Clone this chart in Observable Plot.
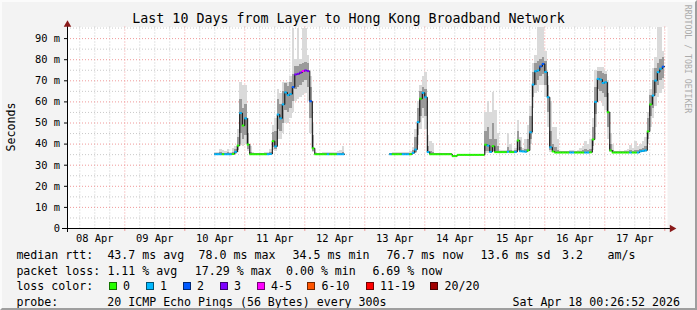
<!DOCTYPE html>
<html>
<head>
<meta charset="utf-8">
<script src="https://cdn.jsdelivr.net/npm/d3@7"></script>
<script src="https://cdn.jsdelivr.net/npm/@observablehq/plot@0.6"></script>
<style>
html, body { margin: 0; padding: 0; background: #f3f3f3; }
#wrap { position: relative; width: 697px; height: 310px; background: #f3f3f3; overflow: hidden;
        font-family: "DejaVu Sans Mono", monospace; color: #000; }
#frame { position: absolute; left: 0; top: 0; width: 697px; height: 310px; box-sizing: border-box;
         border-top: 2px solid #fbfbfb; border-left: 2px solid #fbfbfb;
         border-right: 2px solid #9e9e9e; border-bottom: 2px solid #9e9e9e; pointer-events: none; }
#chart { position: absolute; left: 0; top: 0; }
.t { position: absolute; white-space: pre; line-height: 12px; font-size: 11.6px; }
.sw { position: absolute; width: 6px; height: 6px; border: 1px solid rgba(0,0,0,0.55); }
#title { position: absolute; left: 0; width: 697px; top: 12px; text-align: center; font-size: 13.3px; line-height: 14px; white-space: pre; }
#ylab { position: absolute; left: 10.5px; top: 127px; transform: translate(-50%, -50%) rotate(-90deg); font-size: 11.6px; white-space: pre; }
#brand { position: absolute; left: 688px; top: 59px; transform: translate(-50%, -50%) rotate(90deg); font-size: 8.2px; color: #ababab; white-space: pre; }
</style>
</head>
<body>
<div id="wrap">
  <div id="chart"></div>
  <div id="title"></div>
  <div id="ylab"></div>
  <div id="brand"></div>
  <div id="legend"></div>
  <div id="frame"></div>
</div>
<script>
// ---------- text ----------
const titleText = "Last 10 Days from Layer to Hong Kong Broadband Network";
const yAxisTitle = "Seconds";
const brandText = "RRDTOOL / TOBI OETIKER";

// ---------- axes ----------
const dayLabels = ["08 Apr", "09 Apr", "10 Apr", "11 Apr", "12 Apr", "13 Apr", "14 Apr", "15 Apr", "16 Apr", "17 Apr"];
const dayLabelHours = [12, 36, 60, 84, 108, 132, 156, 180, 204, 228]; // hours since 08 Apr 00:00
const yTicks = [0, 10, 20, 30, 40, 50, 60, 70, 80, 90]; // ms
const xDomain = [1.08, 241.08];
const yDomain = [0, 95.5];

// ---------- loss colours ----------
const lossLabels = ["0", "1", "2", "3", "4-5", "6-10", "11-19", "20/20"];
const lossColors = ["#26ff00", "#00b8ff", "#0059ff", "#7e00ff", "#ff00ff", "#ff5500", "#ff0000", "#a00000"];

// ---------- segment 1: 10 Apr 12:00 -> 12 Apr 16:00 (hourly) ----------
const seg1Start = 60;
const seg1Median = [
  35.2,35.2,35.2,35.2,35.2,35.2,35.2,35.3,36.3,39.3,
  54.7,48.8,52.2,39.8,35.2,35.2,35.2,35.2,35.2,35.2,
  35.2,35.2,35.3,41.4,38.9,54.0,52.2,58.8,64.5,63.2,
  63.7,67.0,73.0,73.3,73.9,74.6,74.9,74.6,60.3,38.0,
  35.2,35.2,35.2,35.2,35.2,35.2,35.2,35.2,35.2,35.2,
  35.2,35.2];
const seg1Loss = [
  1,1,1,0,1,1,1,0,1,0,
  1,0,1,0,0,0,0,0,0,0,
  0,1,1,0,1,1,1,1,1,1,
  1,2,3,3,3,4,3,3,2,0,
  0,0,0,0,0,1,0,0,0,1,
  1,1];
const seg1SmokeLo = [
  35.0,35.0,35.0,35.0,35.0,35.0,35.0,35.0,35.3,36.0,
  40.0,39.0,40.0,36.5,35.0,35.0,35.0,35.0,35.0,35.0,
  35.0,35.0,35.0,36.8,36.5,42.0,42.0,45.0,50.0,50.0,
  52.0,55.0,60.0,61.0,62.0,63.0,64.0,60.0,45.0,35.8,
  35.0,35.0,35.0,35.0,35.0,35.0,35.0,35.0,35.0,35.0,
  35.0,35.0];
const seg1SmokeHi = [
  35.8,36.2,37.6,37.0,36.4,37.4,36.2,38.0,39.0,47.0,
  69.4,68.0,67.8,52.0,39.0,36.0,35.6,35.6,35.6,35.6,
  35.8,36.0,37.5,49.0,52.0,66.0,64.0,69.4,69.4,69.0,
  72.0,94.6,80.0,94.6,80.0,94.6,94.6,82.0,72.0,50.0,
  36.0,35.6,35.6,35.8,35.8,36.2,35.8,35.8,36.0,36.4,
  37.0,39.0];
const seg1CoreLo = [
  35.1,35.1,35.1,35.1,35.1,35.1,35.1,35.1,35.6,37.0,
  45.0,42.0,44.0,37.5,35.1,35.1,35.1,35.1,35.1,35.1,
  35.1,35.1,35.1,38.5,37.5,47.0,46.0,50.0,56.0,55.0,
  57.0,60.0,66.0,67.0,68.0,69.0,70.0,67.0,52.0,36.5,
  35.1,35.1,35.1,35.1,35.1,35.1,35.1,35.1,35.1,35.1,
  35.1,35.1];
const seg1CoreHi = [
  35.4,35.5,36.0,35.7,35.5,35.8,35.5,36.0,37.4,43.0,
  61.0,57.0,59.0,45.0,36.0,35.5,35.4,35.4,35.4,35.4,
  35.4,35.5,36.0,45.5,46.0,61.0,59.0,65.0,68.5,67.5,
  69.0,73.0,77.0,77.0,77.5,78.0,78.5,78.0,67.0,44.0,
  35.5,35.4,35.4,35.4,35.4,35.5,35.4,35.4,35.4,35.5,
  35.6,36.0];

// ---------- segment 2: 13 Apr 10:00 -> 18 Apr 00:00 (hourly) ----------
const seg2Start = 130;
const seg2Median = [
  35.2,35.2,35.2,35.2,35.2,35.2,35.2,35.2,35.2,35.8,
  37.4,50.4,61.5,64.3,62.2,36.2,35.2,35.2,35.2,35.2,
  35.2,35.2,35.2,35.2,35.2,34.3,34.3,34.9,34.9,34.9,
  34.9,34.9,34.9,34.9,34.9,34.9,34.9,34.9,39.7,39.3,
  36.3,39.0,36.2,36.2,36.2,36.2,36.2,36.4,36.2,36.2,
  36.3,41.7,36.6,36.5,36.4,37.0,45.6,68.2,74.5,74.9,
  76.8,78.0,74.2,62.2,38.5,36.5,36.0,36.0,36.0,36.0,
  36.0,36.0,36.0,36.0,36.0,36.0,36.0,36.0,36.0,36.0,
  36.1,42.2,60.0,70.9,70.6,69.0,69.3,55.1,37.0,36.0,
  36.0,36.0,36.0,36.0,36.0,36.0,36.0,36.0,36.0,36.0,
  36.6,36.8,37.0,46.0,58.8,63.0,70.1,74.1,75.7,76.7];
const seg2Loss = [
  1,0,0,0,0,1,1,1,0,1,
  1,1,0,1,1,1,0,0,0,0,
  0,0,0,0,0,0,0,0,0,0,
  0,0,0,0,0,0,0,0,0,1,
  1,0,0,0,0,0,0,1,0,0,
  1,0,1,1,1,0,1,1,1,1,
  2,2,1,1,1,0,0,0,0,0,
  0,0,1,1,0,0,0,0,1,1,
  0,0,1,1,1,1,1,0,0,0,
  0,0,0,0,0,0,1,0,0,1,
  1,1,1,0,0,1,1,1,1,2];
const seg2SmokeLo = [
  35.0,35.0,35.0,35.0,35.0,35.0,35.0,35.0,35.0,35.2,
  35.5,40.0,47.0,52.0,47.0,35.5,35.0,35.0,35.0,35.0,
  35.0,35.0,35.0,35.0,35.0,34.1,34.1,34.7,34.7,34.7,
  34.7,34.7,34.7,34.7,34.7,34.7,34.7,34.7,35.5,35.5,
  35.5,35.8,35.8,35.8,36.0,36.0,36.0,36.0,36.0,36.0,
  36.0,36.5,36.0,36.0,36.0,36.3,40.0,57.0,64.0,65.0,
  68.0,68.0,62.0,48.0,36.0,36.0,35.8,35.8,35.8,35.8,
  35.8,35.8,35.8,35.8,35.8,35.8,35.8,35.8,35.8,35.8,
  35.8,37.0,48.0,60.0,60.0,58.0,56.0,42.0,36.0,35.8,
  35.8,35.8,35.8,35.8,35.8,35.8,35.8,35.8,35.8,35.8,
  36.0,36.0,36.2,40.0,48.0,52.0,58.0,62.0,64.0,66.0];
const seg2SmokeHi = [
  35.6,35.8,36.2,36.2,35.8,36.2,36.2,36.0,36.5,38.5,
  47.0,60.0,68.0,72.0,74.0,44.0,41.0,40.5,35.6,35.6,
  35.6,35.6,35.6,35.6,35.6,34.6,34.6,35.2,35.2,35.2,
  35.2,35.2,35.2,35.2,35.2,35.2,35.2,35.2,55.0,60.0,
  55.0,64.6,56.0,45.0,36.8,36.8,37.0,44.9,40.0,37.0,
  38.0,51.2,43.3,38.0,42.0,48.8,58.0,78.0,82.0,95.5,
  95.5,95.5,84.0,72.0,60.0,48.0,48.0,42.0,36.6,36.6,
  36.6,36.6,36.8,36.8,36.6,37.0,38.0,39.0,41.0,40.0,
  42.0,52.0,74.9,76.4,76.4,76.4,74.5,70.0,45.0,40.0,
  36.6,36.6,36.6,36.6,37.0,37.5,39.5,38.0,41.0,39.0,
  40.0,41.0,43.0,55.0,66.0,76.0,81.0,95.5,95.5,84.0];
const seg2CoreLo = [
  35.1,35.1,35.1,35.1,35.1,35.1,35.1,35.1,35.1,35.4,
  36.0,44.0,53.0,57.0,53.0,35.8,35.1,35.1,35.1,35.1,
  35.1,35.1,35.1,35.1,35.1,34.2,34.2,34.8,34.8,34.8,
  34.8,34.8,34.8,34.8,34.8,34.8,34.8,34.8,36.5,36.5,
  35.8,36.5,36.0,36.0,36.1,36.1,36.1,36.2,36.1,36.1,
  36.1,37.0,36.2,36.2,36.2,36.5,42.0,62.0,68.0,70.0,
  72.0,73.0,68.0,55.0,37.0,36.2,35.9,35.9,35.9,35.9,
  35.9,35.9,35.9,35.9,35.9,35.9,35.9,35.9,35.9,35.9,
  35.9,39.0,54.0,66.0,65.0,64.0,62.0,48.0,36.3,35.9,
  35.9,35.9,35.9,35.9,35.9,35.9,35.9,35.9,35.9,35.9,
  36.2,36.2,36.5,42.0,53.0,57.0,64.0,68.0,70.0,71.0];
const seg2CoreHi = [
  35.4,35.4,35.5,35.5,35.4,35.5,35.5,35.5,35.6,36.8,
  43.0,57.0,65.0,67.0,66.0,39.0,36.5,36.2,35.4,35.4,
  35.4,35.4,35.4,35.4,35.4,34.5,34.5,35.1,35.1,35.1,
  35.1,35.1,35.1,35.1,35.1,35.1,35.1,35.1,46.0,48.0,
  42.0,50.0,42.0,39.0,36.5,36.5,36.5,38.5,37.0,36.5,
  36.8,46.0,38.5,37.0,37.5,42.0,53.0,74.0,78.0,79.0,
  80.0,81.0,79.0,68.0,46.0,40.0,38.5,37.0,36.3,36.3,
  36.3,36.3,36.4,36.4,36.3,36.4,36.5,36.8,37.5,37.0,
  37.5,48.0,67.0,74.5,74.5,73.5,73.0,64.0,40.0,37.0,
  36.3,36.3,36.3,36.3,36.4,36.5,36.8,36.5,37.0,36.8,
  37.5,38.0,39.0,52.0,63.0,70.0,76.0,78.0,80.0,81.0];

// ---------- legend text ----------
const legendRows = [
  { y: 255, items: [[16.4, "median rtt:"], [107.4, "43.7 ms avg"], [198.6, "78.0 ms max"], [292.6, "34.5 ms min"], [386.4, "76.7 ms now"], [480.6, "13.6 ms sd"], [562, "3.2"], [607.6, "am/s"]] },
  { y: 271, items: [[16.4, "packet loss:"], [107.4, "1.11 % avg"], [194.8, "17.29 % max"], [286, "0.00 % min"], [372.4, "6.69 % now"]] },
  { y: 286, items: [[16.4, "loss color:"]] },
  { y: 302, items: [[16.4, "probe:"], [107.3, "20 ICMP Echo Pings (56 Bytes) every 300s"]] }
];
const lossLabelX = [123, 160, 197, 234, 271, 321.5, 380, 444.5];
const lossSwatchX = [108.5, 145.5, 182.5, 219.5, 256.5, 307, 365.5, 430];
const dateText = "Sat Apr 18 00:26:52 2026";

// ---------- build tables ----------
function buildSeg(seg, start, med, loss, lo, hi, clo, chi) {
  return med.map((m, i) => ({ seg, h: start + i, median: m, loss: loss[i], lo: lo[i], hi: hi[i], clo: clo[i], chi: chi[i] }));
}
const rows = [
  ...buildSeg(1, seg1Start, seg1Median, seg1Loss, seg1SmokeLo, seg1SmokeHi, seg1CoreLo, seg1CoreHi),
  ...buildSeg(2, seg2Start, seg2Median, seg2Loss, seg2SmokeLo, seg2SmokeHi, seg2CoreLo, seg2CoreHi)
];
const stepPts = [];
for (const s of [1, 2]) {
  const r = rows.filter(d => d.seg === s);
  r.forEach(d => stepPts.push({ seg: s, h: d.h, median: d.median }));
  const last = r[r.length - 1];
  stepPts.push({ seg: s, h: last.h + 1, median: last.median });
}

const minorX = d3.range(6, 241, 6).filter(h => h % 24 !== 0);
const majorX = d3.range(24, 241, 24);
const minorY = d3.range(5, 96, 10);
const majorY = d3.range(10, 91, 10);

const gridMinor = "#c9c9c9";
const gridMajor = "#f09a9a";
const arrowColor = "#8a1a1a";

const chart = Plot.plot({
  width: 697,
  height: 246,
  marginLeft: 67,
  marginRight: 30,
  marginTop: 26.5,
  marginBottom: 18,
  x: { domain: xDomain, label: null },
  y: { domain: yDomain, label: null },
  style: { background: "transparent", fontFamily: "'DejaVu Sans Mono', monospace", fontSize: "10.4px", color: "#000", overflow: "visible" },
  marks: [
    Plot.frame({ fill: "#ffffff", stroke: null }),
    Plot.ruleX(minorX, { stroke: gridMinor, strokeDasharray: "1,2" }),
    Plot.ruleY(minorY, { stroke: gridMinor, strokeDasharray: "1,2" }),
    Plot.ruleX(majorX, { stroke: gridMajor, strokeDasharray: "1,2" }),
    Plot.ruleY(majorY, { stroke: gridMajor, strokeDasharray: "1,2" }),
    Plot.rect(rows, { x1: "h", x2: d => d.h + 1, y1: "lo", y2: "hi", fill: "#dadada", shapeRendering: "crispEdges" }),
    Plot.rect(rows, { x1: "h", x2: d => d.h + 1, y1: "clo", y2: "chi", fill: "#9a9a9a", shapeRendering: "crispEdges" }),
    Plot.line(stepPts, { x: "h", y: "median", z: "seg", curve: "step-after", stroke: "#000", strokeWidth: 1 }),
    Plot.ruleY(rows, { x1: "h", x2: d => d.h + 1, y: "median", stroke: d => lossColors[d.loss], strokeWidth: 2 }),
    Plot.axisY({ ticks: yTicks, tickFormat: d => d === 0 ? "0" : `${d} m`, tickSize: 3, tickPadding: 4.5, stroke: "#000", fontSize: 10.4, label: null }),
    Plot.axisX({ ticks: dayLabelHours, tickFormat: d => dayLabels[dayLabelHours.indexOf(d)], tickSize: 0, tickPadding: 6, fontSize: 10.4, label: null }),
    Plot.axisX({ ticks: majorX, tickFormat: () => "", tickSize: 3, stroke: gridMajor, label: null }),
    Plot.ruleY([0], { stroke: "#000", insetLeft: -5, insetRight: -4 }),
    Plot.ruleX([xDomain[0]], { stroke: "#000", insetTop: -4, insetBottom: -4 }),
    Plot.dot([0], { x: xDomain[1], y: 0, dx: 4.5, symbol: "triangle", rotate: 90, r: 2.8, fill: arrowColor, stroke: null }),
    Plot.dot([0], { x: xDomain[0], y: yDomain[1], dy: -2.5, symbol: "triangle", r: 2.8, fill: arrowColor, stroke: null })
  ]
});
document.getElementById("chart").appendChild(chart);

document.getElementById("title").textContent = titleText;
document.getElementById("ylab").textContent = yAxisTitle;
document.getElementById("brand").textContent = brandText;

const legend = document.getElementById("legend");
function addText(x, yCenter, s) {
  const el = document.createElement("div");
  el.className = "t";
  el.style.left = x + "px";
  el.style.top = (yCenter - 5.8) + "px";
  el.textContent = s;
  legend.appendChild(el);
  return el;
}
legendRows.forEach(r => r.items.forEach(([x, s]) => addText(x, r.y, s)));
lossLabels.forEach((lab, i) => {
  const sw = document.createElement("div");
  sw.className = "sw";
  sw.style.left = lossSwatchX[i] + "px";
  sw.style.top = "282px";
  sw.style.background = lossColors[i];
  legend.appendChild(sw);
  addText(lossLabelX[i], 286, lab);
});
const dt = addText(0, 302, dateText);
dt.style.left = "auto";
dt.style.right = (697 - 680) + "px";
</script>
</body>
</html>
